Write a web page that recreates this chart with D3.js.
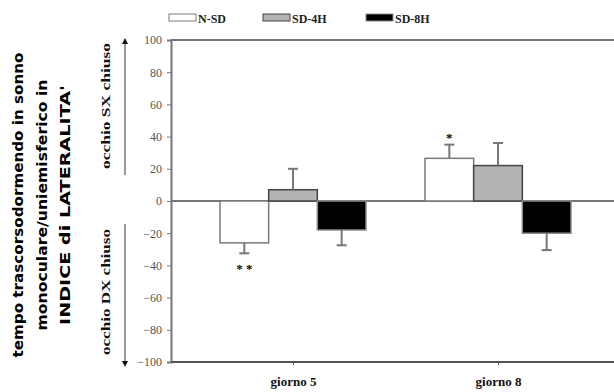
<!DOCTYPE html>
<html>
<head>
<meta charset="utf-8">
<script src="https://cdn.jsdelivr.net/npm/d3@7/dist/d3.min.js"></script>
<style>
    body { margin: 0; background: #fff; }
    svg text { font-family: "Liberation Serif", "Times New Roman", serif; }
    svg text.title { font-family: "DejaVu Sans", sans-serif; }
</style>
</head>
<body>
<svg id="chart" width="614" height="392"></svg>
<script>
// data
const categories = ['giorno 5', 'giorno 8'];
const seriesNames = ['N-SD', 'SD-4H', 'SD-8H'];
const meanNSD = [-26, 26.5];
const mean4H = [7, 22];
const mean8H = [-18, -20];
const errNSD = [6.5, 8.5];
const err4H = [13, 14];
const err8H = [9.5, 10.5];
const stars = [['N-SD', 'giorno 5', '* *'], ['N-SD', 'giorno 8', '*']];
const yTicks = [100, 80, 60, 40, 20, 0, -20, -40, -60, -80, -100];

const fills = {'N-SD': '#ffffff', 'SD-4H': '#b3b3b3', 'SD-8H': '#000000'};
const strokes = {'N-SD': '#7a7a7a', 'SD-4H': '#444444', 'SD-8H': '#8a8a8a'};
const axisColor = '#777777';

const series = [
    {name: 'N-SD', mean: meanNSD, err: errNSD},
    {name: 'SD-4H', mean: mean4H, err: err4H},
    {name: 'SD-8H', mean: mean8H, err: err8H}
];

const svg = d3.select('#chart');
const plotLeft = 171, plotRight = 614, plotTop = 40, plotBottom = 362;

const y = d3.scaleLinear().domain([-100, 100]).range([plotBottom, plotTop]);
const x = d3.scalePoint().domain(categories).range([293, 498]);
const xs = d3.scaleBand().domain(seriesNames).range([-73, 73]);

// frame lines
svg.append('line').attr('x1', plotLeft).attr('x2', plotRight).attr('y1', plotTop).attr('y2', plotTop)
    .attr('stroke', axisColor).attr('stroke-width', 2);
svg.append('line').attr('x1', plotLeft).attr('x2', plotRight).attr('y1', y(0)).attr('y2', y(0))
    .attr('stroke', axisColor).attr('stroke-width', 2);

// y axis
const yAxis = svg.append('g')
    .attr('transform', `translate(${plotLeft},0)`)
    .call(d3.axisLeft(y).tickValues(yTicks).tickSize(4).tickPadding(5).tickFormat(d3.format('d')));
yAxis.select('.domain').attr('stroke', axisColor).attr('stroke-width', 2);
yAxis.selectAll('.tick line').attr('stroke', axisColor);
yAxis.selectAll('.tick text')
    .attr('font-size', 12).attr('fill', '#555');

// x axis
const xAxis = svg.append('g')
    .attr('transform', `translate(0,${plotBottom})`)
    .call(d3.axisBottom(x).tickSize(3).tickPadding(12));
xAxis.select('.domain').attr('d', `M${plotLeft},0H${plotRight}`)
    .attr('stroke', '#555').attr('stroke-width', 2);
xAxis.selectAll('.tick line').attr('stroke', '#555');
xAxis.selectAll('.tick text')
    .attr('font-size', 13).attr('font-weight', 'bold').attr('fill', '#111');

// bars
const groups = svg.append('g').selectAll('g')
    .data(series).enter().append('g');

groups.selectAll('rect')
    .data(s => categories.map((c, i) => ({name: s.name, cat: c, v: s.mean[i], e: s.err[i]})))
    .enter().append('rect')
    .attr('x', d => x(d.cat) + xs(d.name))
    .attr('width', xs.bandwidth())
    .attr('y', d => y(Math.max(0, d.v)))
    .attr('height', d => Math.abs(y(d.v) - y(0)))
    .attr('fill', d => fills[d.name])
    .attr('stroke', d => strokes[d.name])
    .attr('stroke-width', 1.5);

// error bars
const errs = svg.append('g').selectAll('g')
    .data(series.flatMap(s => categories.map((c, i) => ({name: s.name, cat: c, v: s.mean[i], e: s.err[i]}))))
    .enter().append('g')
    .attr('transform', d => `translate(${x(d.cat) + xs(d.name) + xs.bandwidth() / 2},0)`);
errs.append('line')
    .attr('y1', d => y(d.v))
    .attr('y2', d => y(d.v + Math.sign(d.v) * d.e))
    .attr('stroke', axisColor).attr('stroke-width', 2);
errs.append('line')
    .attr('x1', -5).attr('x2', 5)
    .attr('y1', d => y(d.v + Math.sign(d.v) * d.e))
    .attr('y2', d => y(d.v + Math.sign(d.v) * d.e))
    .attr('stroke', axisColor).attr('stroke-width', 2);

// significance marks
svg.append('g').selectAll('text')
    .data(stars).enter().append('text')
    .attr('x', d => x(d[1]) + xs(d[0]) + xs.bandwidth() / 2)
    .attr('y', d => {
        const s = series.find(v => v.name === d[0]);
        const i = categories.indexOf(d[1]);
        const end = s.mean[i] + Math.sign(s.mean[i]) * s.err[i];
        return s.mean[i] < 0 ? y(end) + 20 : y(end) - 3;
    })
    .attr('text-anchor', 'middle')
    .attr('font-size', 13).attr('font-weight', 'bold')
    .text(d => d[2]);

// legend
const legendX = [169, 263, 366];
const legend = svg.append('g').selectAll('g')
    .data(seriesNames).enter().append('g')
    .attr('transform', (d, i) => `translate(${legendX[i]},14)`);
legend.append('rect')
    .attr('width', 27).attr('height', 7)
    .attr('fill', d => fills[d])
    .attr('stroke', d => strokes[d]).attr('stroke-width', 1);
legend.append('text')
    .attr('x', 29).attr('y', 8.5)
    .attr('font-size', 12).attr('font-weight', 'bold').attr('fill', '#222')
    .text(d => d);

// side labels with arrows
const defs = svg.append('defs');
defs.append('marker').attr('id', 'arr').attr('viewBox', '0 0 10 10')
    .attr('refX', 5).attr('refY', 5).attr('markerWidth', 4).attr('markerHeight', 4)
    .attr('orient', 'auto-start-reverse')
    .append('path').attr('d', 'M0,0L10,5L0,10z').attr('fill', '#111');

svg.append('line').attr('x1', 125).attr('x2', 125).attr('y1', 175).attr('y2', 41)
    .attr('stroke', axisColor).attr('stroke-width', 1.5).attr('marker-end', 'url(#arr)');
svg.append('line').attr('x1', 125).attr('x2', 125).attr('y1', 224).attr('y2', 364)
    .attr('stroke', axisColor).attr('stroke-width', 1.5).attr('marker-end', 'url(#arr)');

const sideLabels = [['occhio SX chiuso', 106], ['occhio DX chiuso', 292]];
svg.append('g').selectAll('text')
    .data(sideLabels).enter().append('text')
    .attr('transform', d => `translate(110,${d[1]}) rotate(-90)`)
    .attr('text-anchor', 'middle')
    .attr('font-size', 13).attr('font-weight', 'bold').attr('fill', '#111')
    .attr('textLength', 126).attr('lengthAdjust', 'spacingAndGlyphs')
    .text(d => d[0]);

// title
const titleLines = [
    ['tempo trascorsodormendo in sonno', 23, 305],
    ['monoculare/uniemisferico in', 47, 251],
    ["INDICE di LATERALITA'", 70, 240]
];
svg.append('g').selectAll('text')
    .data(titleLines).enter().append('text')
    .attr('class', 'title')
    .attr('transform', d => `translate(${d[1]},205) rotate(-90)`)
    .attr('text-anchor', 'middle')
    .attr('font-size', 14).attr('font-weight', 'bold').attr('fill', '#000')
    .attr('textLength', d => d[2]).attr('lengthAdjust', 'spacingAndGlyphs')
    .text(d => d[0]);
</script>
</body>
</html>
